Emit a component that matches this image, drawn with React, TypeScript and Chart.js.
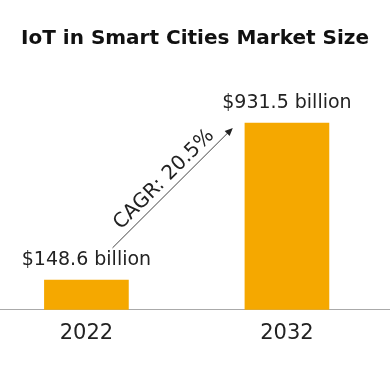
import React, { useEffect, useRef } from "react";
import { Chart, registerables } from "chart.js";

Chart.register(...registerables);

const TITLE = "IoT in Smart Cities Market Size";
const YEARS = ["2022", "2032"];
const MARKET_SIZE = [148.6, 931.5];
const VALUE_LABELS = ["$148.6 billion", "$931.5 billion"];
const CAGR_LABEL = "CAGR: 20.5%";
// arrow annotation endpoints in data space [xIndex, value]
const ARROW_FROM = [0.13, 309];
const ARROW_TO = [0.73, 908];

const FONT = "'DejaVu Sans', sans-serif";
const BAR_COLOR = "#F5A800";

const annotPlugin = {
  id: "annot",
  afterDatasetsDraw(chart: any) {
    const ctx = chart.ctx;
    const meta = chart.getDatasetMeta(0);
    const xs = chart.scales.x;
    const ys = chart.scales.y;
    ctx.save();
    ctx.fillStyle = "#222";
    ctx.font = `400 19px ${FONT}`;
    ctx.textAlign = "center";
    ctx.textBaseline = "middle";
    meta.data.forEach((bar: any, i: number) => {
      ctx.fillText(VALUE_LABELS[i], bar.x, bar.y - 20);
    });
    // arrow
    const x1 = xs.getPixelForValue(ARROW_FROM[0]);
    const y1 = ys.getPixelForValue(ARROW_FROM[1]);
    const x2 = xs.getPixelForValue(ARROW_TO[0]);
    const y2 = ys.getPixelForValue(ARROW_TO[1]);
    const ang = Math.atan2(y2 - y1, x2 - x1);
    ctx.strokeStyle = "#444";
    ctx.lineWidth = 1;
    ctx.beginPath();
    ctx.moveTo(x1, y1);
    ctx.lineTo(x2 - 6 * Math.cos(ang), y2 - 6 * Math.sin(ang));
    ctx.stroke();
    ctx.fillStyle = "#222";
    ctx.beginPath();
    ctx.moveTo(x2, y2);
    ctx.lineTo(x2 - 8 * Math.cos(ang) + 3.5 * Math.sin(ang), y2 - 8 * Math.sin(ang) - 3.5 * Math.cos(ang));
    ctx.lineTo(x2 - 8 * Math.cos(ang) - 3.5 * Math.sin(ang), y2 - 8 * Math.sin(ang) + 3.5 * Math.cos(ang));
    ctx.closePath();
    ctx.fill();
    // label
    const mx = (x1 + x2) / 2;
    const my = (y1 + y2) / 2;
    const off = 12;
    const tx = mx + off * Math.sin(ang);
    const ty = my - off * Math.cos(ang);
    ctx.translate(tx, ty);
    ctx.rotate(ang);
    ctx.fillStyle = "#222";
    ctx.font = `400 20px ${FONT}`;
    ctx.textAlign = "center";
    ctx.textBaseline = "middle";
    ctx.fillText(CAGR_LABEL, 0, 0);
    ctx.restore();
  },
};

export default function App() {
  const ref = useRef<HTMLCanvasElement | null>(null);
  useEffect(() => {
    if (!ref.current) return;
    const chart = new Chart(ref.current, {
      type: "bar",
      data: {
        datasets: [
          {
            data: MARKET_SIZE.map((v, i) => ({ x: i, y: v })),
            backgroundColor: BAR_COLOR,
            borderWidth: 0,
            barThickness: 84,
          },
        ],
      },
      options: {
        responsive: false,
        animation: false,
        layout: { padding: { top: 0, bottom: 33, left: 0, right: 0 } },
        plugins: {
          legend: { display: false },
          tooltip: { enabled: false },
          title: {
            display: true,
            text: TITLE,
            color: "#111",
            font: { family: FONT, size: 20, weight: "bold" },
            padding: { top: 27, bottom: 19 },
          },
        },
        scales: {
          x: {
            type: "linear",
            min: -0.431,
            max: 1.514,
            offset: false,
            grid: { display: false, drawTicks: false },
            border: { display: true, color: "#aaa", width: 1 },
            afterBuildTicks: (axis: any) => {
              axis.ticks = YEARS.map((_, i) => ({ value: i }));
            },
            ticks: {
              padding: 11,
              color: "#222",
              font: { family: FONT, size: 21 },
              maxRotation: 0,
              callback: (v: any) => YEARS[v as number] ?? "",
            },
          },
          y: {
            display: false,
            min: 0,
            max: 1197,
          },
        },
      },
      plugins: [annotPlugin],
    });
    return () => chart.destroy();
  }, []);
  return (
    <div style={{ position: "fixed", left: 0, top: 0, width: 390, height: 390, background: "#fff" }}>
      <canvas ref={ref} width={390} height={390} />
    </div>
  );
}
